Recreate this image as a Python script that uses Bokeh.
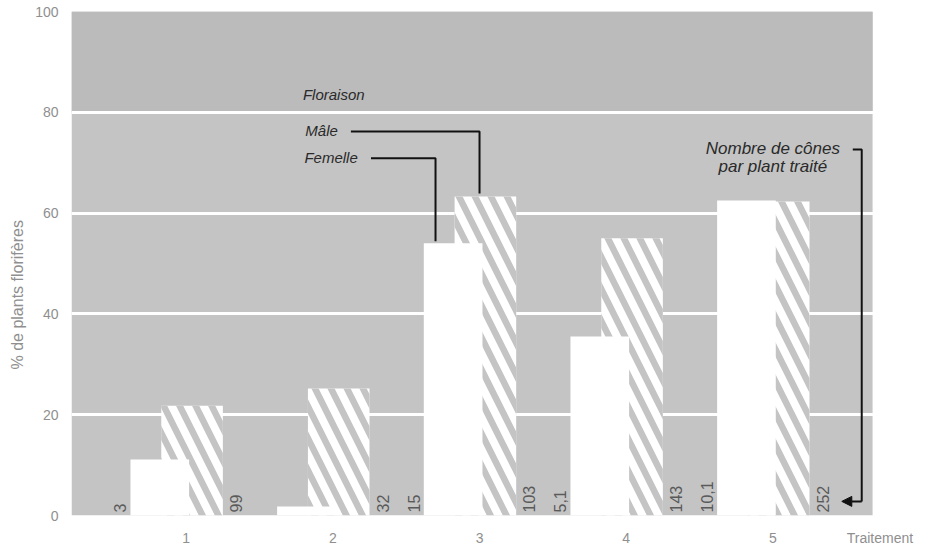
import math
from bokeh.plotting import figure
from bokeh.models import FixedTicker, Label, BoxAnnotation, Arrow, NormalHead, Range1d, Title
from bokeh.core.properties import value
from bokeh.embed import file_html
from bokeh.resources import INLINE

# ---- data ----
traitements = [1, 2, 3, 4, 5]
femelle = [11.1, 1.8, 54.0, 35.5, 62.5]
male = [21.8, 25.2, 63.3, 55.0, 62.3]
cones_femelle = ["3", "", "15", "5,1", "10,1"]
cones_male = ["99", "32", "103", "143", "252"]
y_ticks = [0, 20, 40, 60, 80, 100]
x_ticks = [1, 2, 3, 4, 5]
x_title = "Traitement"
y_title = "% de plants florifères"

FONT = "Liberation Sans"
F_OFF, M_OFF = -0.18, 0.04
F_W, M_W = 0.40, 0.42
X0, X1 = 0.218, 5.68          # extent of the grey panel
X_TITLE_POS = 5.73

p = figure(width=926, height=548, x_range=Range1d(X0, 6.034), y_range=Range1d(0, 100),
           output_backend="svg", toolbar_location=None,
           min_border_left=69, min_border_right=2, min_border_top=11, min_border_bottom=30)
p.outline_line_color = None
p.background_fill_color = "white"
p.border_fill_color = "white"

# grey panel and darker top band
p.add_layout(BoxAnnotation(left=X0, right=X1, bottom=0, top=100, fill_color="#c4c4c4",
                           fill_alpha=1, line_color=None, level="image"))
p.add_layout(BoxAnnotation(left=X0, right=X1, bottom=80, top=100, fill_color="#bbbbbb",
                           fill_alpha=1, line_color=None, level="image"))

# grid
p.xgrid.visible = False
p.ygrid.ticker = FixedTicker(ticks=[20, 40, 60, 80])
p.ygrid.bounds = (X0, X1)
p.ygrid.grid_line_color = "white"
p.ygrid.grid_line_width = 3
p.ygrid.grid_line_alpha = 1

# axes
for ax in (p.xaxis[0], p.yaxis[0]):
    ax.axis_line_color = None
    ax.major_tick_line_color = None
    ax.minor_tick_line_color = None
    ax.major_label_text_font = FONT
    ax.major_label_text_font_size = "14px"
    ax.major_label_text_color = "#8f8f8f"
p.xaxis.ticker = FixedTicker(ticks=x_ticks + [X_TITLE_POS])
p.xaxis.major_label_overrides = {X_TITLE_POS: x_title}
p.yaxis.ticker = FixedTicker(ticks=y_ticks)
p.xaxis.major_label_standoff = 8
p.yaxis.major_label_standoff = 7

# y axis title
p.add_layout(Title(text=y_title, align="left", offset=146, standoff=13,
                   text_font=FONT, text_font_size="16px", text_font_style="normal",
                   text_color="#8f8f8f"), "left")

# bars: male (hatched) behind, female (white) in front
xm = [t + M_OFF for t in traitements]
xf = [t + F_OFF for t in traitements]
p.vbar(x=xm, top=male, width=M_W, bottom=0, fill_color="white", line_color=None,
       hatch_pattern="left_diagonal_line", hatch_color="#c4c4c4",
       hatch_weight=6.5, hatch_scale=32)
p.vbar(x=xf, top=femelle, width=F_W, bottom=0, fill_color="white", line_color=None)

# cone counts (vertical text)
p.text(x=[t - 0.45 for t in traitements], y=[0.6] * 5, text=cones_femelle,
       angle=math.pi / 2, text_align="left", text_baseline="middle",
       text_font=value(FONT), text_font_size="16px", text_color="#5a5a5a")
p.text(x=[t + 0.34 for t in traitements], y=[0.6] * 5, text=cones_male,
       angle=math.pi / 2, text_align="left", text_baseline="middle",
       text_font=value(FONT), text_font_size="16px", text_color="#5a5a5a")

# annotations
def lab(x, y, t, align="left", size="15px", style="italic", color="#2a2a2a", angle=0):
    p.add_layout(Label(x=x, y=y, text=t, text_align=align, text_baseline="middle",
                       text_font=FONT, text_font_size=size, text_font_style=style,
                       text_color=color, angle=angle))

lab(1.796, 83.5, "Floraison")
lab(2.034, 76.4, "Mâle", align="right")
lab(2.17, 71.0, "Femelle", align="right")
lab(5.0, 72.8, "Nombre de cônes", align="center", size="17px")
lab(5.0, 69.2, "par plant traité", align="center", size="17px")

# connector lines
xm3 = traitements[2]
p.line(x=[2.123, xm3, xm3], y=[76.2, 76.2, male[2] + 0.6], line_color="#111", line_width=2)
xf3 = traitements[2] - 0.30
p.line(x=[2.26, xf3, xf3], y=[70.9, 70.9, femelle[2] + 0.4], line_color="#111", line_width=2)
p.line(x=[5.545, 5.606, 5.606], y=[72.6, 72.6, 2.8], line_color="#111", line_width=2)
p.add_layout(Arrow(end=NormalHead(size=10, fill_color="#111", line_color="#111"),
                   x_start=5.606, y_start=2.8, x_end=5.47, y_end=2.8,
                   line_color="#111", line_width=2))

open("out.html", "w").write(file_html(p, INLINE))
